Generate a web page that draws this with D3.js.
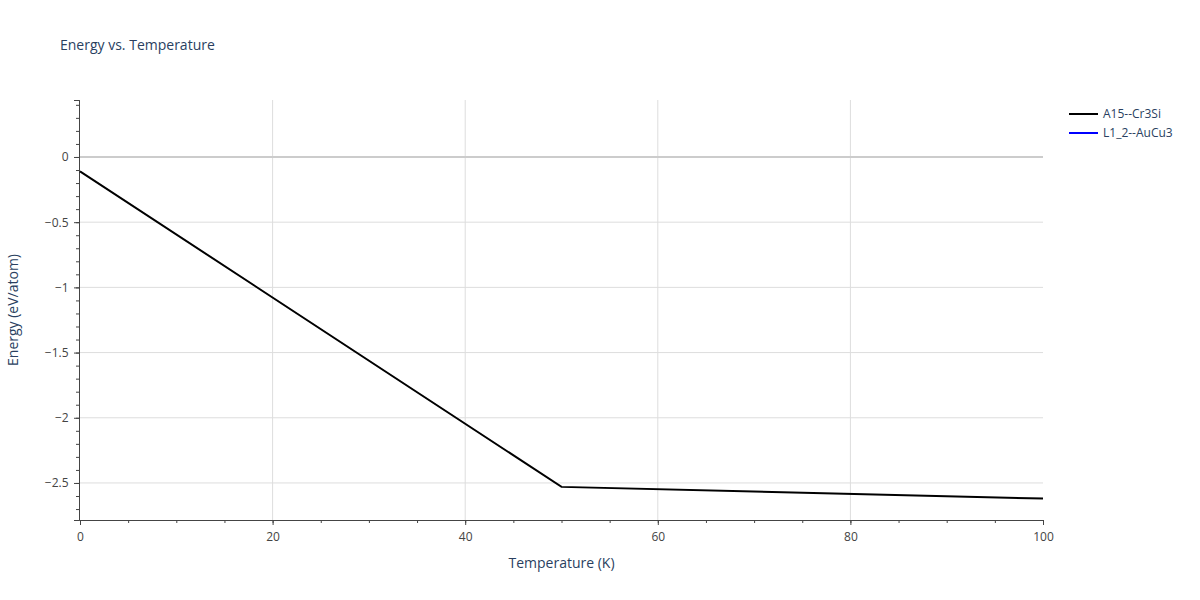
<!DOCTYPE html>
<html><head><meta charset="utf-8">
<script src="https://cdn.jsdelivr.net/npm/d3@7"></script>
<style>body{margin:0;background:#fff}text{font-family:"Open Sans",Arial,sans-serif}</style>
</head><body><svg id="c" width="1200" height="600"></svg>
<script>
const seriesNames = ["A15--Cr3Si", "L1_2--AuCu3"];
const seriesColors = ["#000000", "#0000ff"];
const a15Temps = [0, 50, 100];
const a15Energy = [-0.11, -2.53, -2.62];
const l12Temps = [];
const l12Energy = [];
const xTicks = [0, 20, 40, 60, 80, 100];
const yTicks = [0, -0.5, -1, -1.5, -2, -2.5];

const svg = d3.select("#c");
const L=80,R=1043,T=100,B=520;
const x = d3.scaleLinear().domain([0,100]).range([L,R]);
const y = d3.scaleLinear().domain([-2.784,0.437]).range([B,T]);
const g = svg.append("g");
xTicks.forEach(t=>{ if(t>0&&t<100) g.append("line").attr("x1",x(t)).attr("x2",x(t)).attr("y1",T).attr("y2",B).attr("stroke","#ddd");});
yTicks.forEach(t=>{ if(t!==0) g.append("line").attr("x1",L).attr("x2",R).attr("y1",y(t)).attr("y2",y(t)).attr("stroke","#ddd");});
g.append("line").attr("x1",L).attr("x2",R).attr("y1",y(0)).attr("y2",y(0)).attr("stroke","#ccc").attr("stroke-width",2);
const xa = svg.append("g").attr("transform",`translate(0,${B})`)
  .call(d3.axisBottom(x).tickValues(xTicks).tickSize(5).tickFormat(d3.format("d")));
const xm = svg.append("g").attr("transform",`translate(0,${B})`)
  .call(d3.axisBottom(x).tickValues(d3.range(0,101,5)).tickSize(3).tickFormat(""));
const ya = svg.append("g").attr("transform",`translate(${L-1},0)`)
  .call(d3.axisLeft(y).tickValues(yTicks).tickSize(5).tickFormat(d=>d3.format("")(d).replace("-","−")));
const ym = svg.append("g").attr("transform",`translate(${L-1},0)`)
  .call(d3.axisLeft(y).tickValues(d3.range(-27,5).map(v=>v/10)).tickSize(3).tickFormat(""));
[xa,xm,ya,ym].forEach(a=>{a.selectAll("path").attr("stroke","#444");a.selectAll("line").attr("stroke","#444");
  a.selectAll("text").attr("fill","#444").style("font-size","12px").style("font-family","'Open Sans',Arial,sans-serif");});
xa.selectAll("text").attr("dy","1.1em");
ya.selectAll("text").attr("dx","-0.2em");
const line = d3.line().x(d=>x(d[0])).y(d=>y(d[1]));
const sets = [d3.zip(a15Temps,a15Energy), d3.zip(l12Temps,l12Energy)];
sets.forEach((s,i)=>{ if(s.length) svg.append("path").datum(s).attr("d",line).attr("fill","none").attr("stroke",seriesColors[i]).attr("stroke-width",2);});
svg.append("text").attr("x",60).attr("y",50).text("Energy vs. Temperature").attr("fill","#2a3f5f").style("font-size","14px");
svg.append("text").attr("x",(L+R)/2).attr("y",568).attr("text-anchor","middle").text("Temperature (K)").attr("fill","#2a3f5f").style("font-size","14px");
svg.append("text").attr("transform",`translate(18,${(T+B)/2}) rotate(-90)`).attr("text-anchor","middle").text("Energy (eV/atom)").attr("fill","#2a3f5f").style("font-size","14px");
seriesNames.forEach((n,i)=>{const yy=114+i*19;
  svg.append("line").attr("x1",1069).attr("x2",1098).attr("y1",yy).attr("y2",yy).attr("stroke",seriesColors[i]).attr("stroke-width",2);
  svg.append("text").attr("x",1103).attr("y",yy+4).text(n).attr("fill","#2a3f5f").style("font-size","12px");});
</script></body></html>
